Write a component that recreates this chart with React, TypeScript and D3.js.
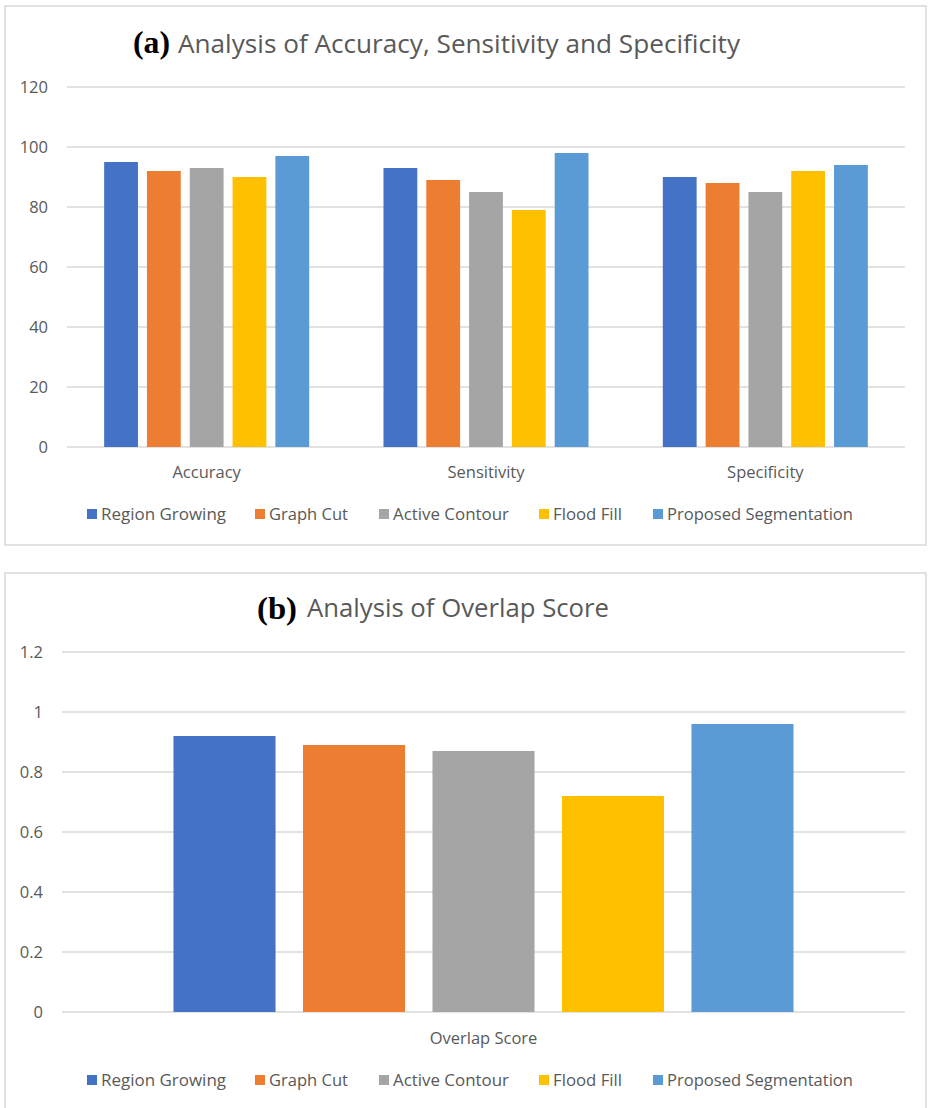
import React from "react";
import * as d3 from "d3";

const methods = ["Region Growing", "Graph Cut", "Active Contour", "Flood Fill", "Proposed Segmentation"];
const colors = ["#4472C4", "#ED7D31", "#A5A5A5", "#FFC000", "#5B9BD5"];

const metricsA = ["Accuracy", "Sensitivity", "Specificity"];
const regionGrowing = [95, 93, 90];
const graphCut = [92, 89, 88];
const activeContour = [93, 85, 85];
const floodFill = [90, 79, 92];
const proposed = [97, 98, 94];
const ticksA = [0, 20, 40, 60, 80, 100, 120];

const metricsB = ["Overlap Score"];
const overlapScores = [0.92, 0.89, 0.87, 0.72, 0.96];
const ticksB = [0, 0.2, 0.4, 0.6, 0.8, 1, 1.2];

const seriesA = [regionGrowing, graphCut, activeContour, floodFill, proposed];

const FONT = "'Open Sans', 'Noto Sans', sans-serif";
const SERIF = "'Liberation Serif', 'Times New Roman', serif";
const TXT = "#595959";
const GRID = "#D9D9D9";

// legend layout (x of squares, text widths)
const legendSquareX = [87, 255, 379, 539, 653];
const legendTextW = [125, 79, 116, 69, 186];

function Legend({ cy }: { cy: number }) {
  return (
    <g>
      {methods.map((m, i) => (
        <g key={m}>
          <rect x={legendSquareX[i]} y={cy - 5} width={10} height={10} fill={colors[i]} />
          <text
            x={legendSquareX[i] + 14}
            y={cy + 6}
            fontFamily={FONT}
            fontSize={16.5}
            fill={TXT}
            textLength={legendTextW[i]}
            lengthAdjust="spacingAndGlyphs"
          >
            {m}
          </text>
        </g>
      ))}
    </g>
  );
}

export default function App() {
  // Chart A
  const xA = d3.scaleBand<string>().domain(metricsA).range([67, 905]).paddingInner(0.266).paddingOuter(0.133);
  const xAInner = d3.scaleBand<string>().domain(methods).range([0, xA.bandwidth()]).paddingInner(0.21).paddingOuter(0);
  const yA = d3.scaleLinear().domain([0, 120]).range([447, 87]);

  // Chart B
  const xB = d3.scaleBand<string>().domain(metricsB).range([62, 905]).paddingInner(0.2645).paddingOuter(0.13225);
  const xBInner = d3.scaleBand<string>().domain(methods).range([0, xB.bandwidth()]).paddingInner(0.212).paddingOuter(0);
  const yB = d3.scaleLinear().domain([0, 1.2]).range([1012, 652]);
  const fmtB = (v: number) => (v === 0 || v === 1 ? String(v) : d3.format(".1f")(v));

  return (
    <svg
      width={928}
      height={1108}
      style={{ position: "absolute", left: 0, top: 0, background: "#fff" }}
    >
      <rect x={0} y={0} width={928} height={1108} fill="#fff" />
      {/* Chart A frame */}
      <rect x={5} y={6} width={921} height={539} fill="#fff" stroke={GRID} strokeWidth={1.5} />
      {/* Title A */}
      <text x={133} y={53} fontFamily={SERIF} fontWeight="bold" fontSize={31} fill="#000" textLength={37} lengthAdjust="spacingAndGlyphs">(a)</text>
      <text x={178} y={53} fontFamily={FONT} fontSize={25} fill={TXT} textLength={562} lengthAdjust="spacingAndGlyphs">
        Analysis of Accuracy, Sensitivity and Specificity
      </text>
      {/* grid A */}
      {ticksA.map((t) => (
        <g key={"ga" + t}>
          <line x1={67} x2={905} y1={yA(t)} y2={yA(t)} stroke={GRID} strokeWidth={1.3} />
          <text x={48} y={yA(t) + 6} textAnchor="end" fontFamily={FONT} fontSize={16.5} fill={TXT}>{t}</text>
        </g>
      ))}
      {/* bars A */}
      {metricsA.map((c, ci) => (
        <g key={c} transform={`translate(${xA(c)},0)`}>
          {methods.map((m, si) => (
            <rect
              key={m}
              x={xAInner(m)}
              y={yA(seriesA[si][ci])}
              width={xAInner.bandwidth()}
              height={yA(0) - yA(seriesA[si][ci])}
              fill={colors[si]}
            />
          ))}
          <text x={xA.bandwidth() / 2} y={478} textAnchor="middle" fontFamily={FONT} fontSize={16.5} fill={TXT}>{c}</text>
        </g>
      ))}
      <Legend cy={514} />

      {/* Chart B frame */}
      <rect x={5} y={573} width={921} height={545} fill="#fff" stroke={GRID} strokeWidth={1.5} />
      <text x={257} y={619} fontFamily={SERIF} fontWeight="bold" fontSize={31} fill="#000" textLength={40} lengthAdjust="spacingAndGlyphs">(b)</text>
      <text x={307} y={617} fontFamily={FONT} fontSize={25} fill={TXT} textLength={302} lengthAdjust="spacingAndGlyphs">
        Analysis of Overlap Score
      </text>
      {ticksB.map((t) => (
        <g key={"gb" + t}>
          <line x1={62} x2={905} y1={yB(t)} y2={yB(t)} stroke={GRID} strokeWidth={1.3} />
          <text x={43} y={yB(t) + 6} textAnchor="end" fontFamily={FONT} fontSize={16.5} fill={TXT}>{fmtB(t)}</text>
        </g>
      ))}
      {metricsB.map((c) => (
        <g key={c} transform={`translate(${xB(c)},0)`}>
          {methods.map((m, si) => (
            <rect
              key={m}
              x={xBInner(m)}
              y={yB(overlapScores[si])}
              width={xBInner.bandwidth()}
              height={yB(0) - yB(overlapScores[si])}
              fill={colors[si]}
            />
          ))}
          <text x={xB.bandwidth() / 2} y={1044} textAnchor="middle" fontFamily={FONT} fontSize={16.5} fill={TXT}>{c}</text>
        </g>
      ))}
      <Legend cy={1080} />
    </svg>
  );
}
